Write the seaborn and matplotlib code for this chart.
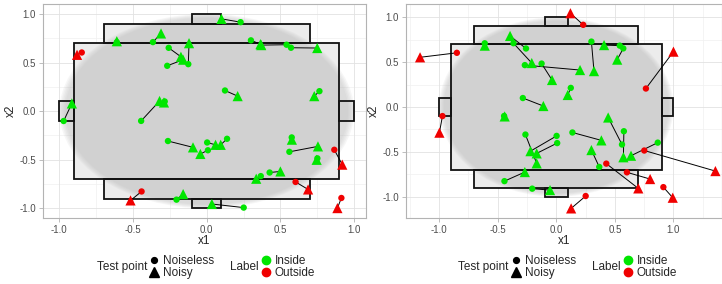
import matplotlib
matplotlib.use("Agg")
import matplotlib.pyplot as plt
from matplotlib.lines import Line2D
from matplotlib.patches import Rectangle, Ellipse
import numpy as np
import pandas as pd
import seaborn as sns

# noiseless test points (shared by both panels)
clean_x1 = [0.23, -0.61, -0.365, -0.258, -0.125, -0.268, 0.30, 0.542, 0.572, -0.848,
            0.124, 0.765, -0.971, -0.445, -0.285, -0.263, 0.003, 0.008, 0.138, 0.577,
            0.561, 0.751, 0.866, 0.427, 0.367, 0.603, -0.442, -0.205, 0.251, 0.914]
clean_x2 = [0.916, 0.71, 0.711, 0.652, 0.484, 0.467, 0.729, 0.684, 0.653, 0.604,
            0.213, 0.206, -0.101, -0.10, 0.10, -0.307, -0.322, -0.402, -0.284, -0.27,
            -0.418, -0.485, -0.397, -0.631, -0.668, -0.728, -0.826, -0.91, -0.992, -0.893]

# noisy versions, low noise (left panel)
noisy_left_x1 = [0.10, -0.61, -0.31, -0.175, -0.12, -0.16, 0.365, 0.37, 0.75, -0.88,
                 0.21, 0.73, -0.915, -0.32, -0.29, -0.093, 0.06, -0.043, 0.095, 0.578,
                 0.755, 0.746, 0.92, 0.50, 0.336, 0.688, -0.517, -0.16, 0.035, 0.887]
noisy_left_x2 = [0.95, 0.72, 0.80, 0.56, 0.70, 0.53, 0.69, 0.68, 0.65, 0.58,
                 0.155, 0.155, 0.08, 0.105, 0.09, -0.372, -0.346, -0.44, -0.346, -0.293,
                 -0.362, -0.50, -0.55, -0.62, -0.695, -0.805, -0.918, -0.853, -0.955, -0.997]
label_left = ["Inside"] * 30
for i in [9, 22, 25, 26, 29]:
    label_left[i] = "Outside"

# noisy versions, high noise (right panel)
noisy_right_x1 = [0.121, -0.61, -0.209, -0.394, -0.036, 0.203, 0.322, 0.408, 0.52, -1.162,
                  0.098, 1.0, -0.997, -0.44, -0.11, -0.167, -0.22, -0.167, 0.385, 0.573,
                  0.443, 1.358, 0.638, 0.70, 0.30, 0.801, -0.268, -0.053, 0.127, 0.994]
noisy_right_x2 = [1.045, 0.684, 0.49, 0.792, 0.301, 0.412, 0.40, 0.69, 0.528, 0.554,
                  0.134, 0.617, -0.286, -0.105, 0.011, -0.628, -0.492, -0.517, -0.372, -0.56,
                  -0.117, -0.714, -0.543, -0.907, -0.48, -0.803, -0.725, -0.926, -1.13, -1.011]
label_right = ["Inside"] * 30
for i in [0, 9, 11, 12, 21, 23, 25, 28, 29]:
    label_right[i] = "Outside"

# region rectangles: xmin, xmax, ymin, ymax
rects = [(-0.9, 0.9, -0.7, 0.7), (-0.7, 0.7, 0.7, 0.9), (-0.7, 0.7, -0.9, -0.7),
         (-0.1, 0.1, 0.9, 1.0), (-0.1, 0.1, -1.0, -0.9),
         (-1.0, -0.9, -0.1, 0.1), (0.9, 1.0, -0.1, 0.1)]

palette = {"Inside": "#00e600", "Outside": "#f00000"}
ticks = [-1.0, -0.5, 0.0, 0.5, 1.0]

sns.set_theme(style="white")
plt.rcParams["font.family"] = ["Liberation Sans", "DejaVu Sans"]

W, H = 722, 284
fig = plt.figure(figsize=(W / 100, H / 100), dpi=100)


def panel(box, nx, ny, labels, xlim, ylim):
    l, t, r, b = box
    ax = fig.add_axes([l / W, 1 - b / H, (r - l) / W, (b - t) / H])
    ax.set_xlim(*xlim)
    ax.set_ylim(*ylim)

    # grid like ggplot theme_light
    major = np.arange(-1.5, 1.51, 0.5)
    minor = np.arange(-1.25, 1.5, 0.5)
    for v in minor:
        ax.axvline(v, color="#f0f0f0", lw=0.5, zorder=0)
        ax.axhline(v, color="#f0f0f0", lw=0.5, zorder=0)
    for v in major:
        ax.axvline(v, color="#e2e2e2", lw=0.6, zorder=0)
        ax.axhline(v, color="#e2e2e2", lw=0.6, zorder=0)

    for x0, x1, y0, y1 in rects:
        ax.add_patch(Rectangle((x0, y0), x1 - x0, y1 - y0, facecolor="#ececec",
                               edgecolor="none", zorder=1))
    # soft-edged unit circle
    for rad in np.linspace(1.0, 0.96, 5):
        ax.add_patch(Ellipse((0, 0), 2 * rad, 2 * rad, facecolor="#b8b8b8",
                             edgecolor="none", alpha=0.12, zorder=2))
    for x0, x1, y0, y1 in rects:
        ax.add_patch(Rectangle((x0, y0), x1 - x0, y1 - y0, facecolor="none",
                               edgecolor="#111111", lw=1.3, zorder=3))

    for a, b_, c, d in zip(clean_x1, clean_x2, nx, ny):
        ax.plot([a, c], [b_, d], color="black", lw=0.7, zorder=4)

    df = pd.DataFrame({
        "x1": clean_x1 + nx,
        "x2": clean_x2 + ny,
        "Label": labels + labels,
        "Test point": ["Noiseless"] * len(clean_x1) + ["Noisy"] * len(nx),
    })
    sns.scatterplot(data=df[df["Test point"] == "Noiseless"], x="x1", y="x2",
                    hue="Label", palette=palette, marker="o", s=21, linewidth=0,
                    legend=False, ax=ax, zorder=5)
    sns.scatterplot(data=df[df["Test point"] == "Noisy"], x="x1", y="x2",
                    hue="Label", palette=palette, marker="^", s=54, linewidth=0,
                    legend=False, ax=ax, zorder=6)

    ax.set_xticks(ticks)
    ax.set_yticks(ticks)
    ax.set_xticklabels(["-1.0", "-0.5", "0.0", "0.5", "1.0"])
    ax.set_yticklabels(["-1.0", "-0.5", "0.0", "0.5", "1.0"])
    ax.tick_params(axis="both", length=3, width=0.6, color="#b3b3b3",
                   labelsize=7, labelcolor="#4d4d4d", pad=2, bottom=True, left=True)
    for s in ax.spines.values():
        s.set_color("#b3b3b3")
        s.set_linewidth(0.8)
    ax.set_xlabel("x1", fontsize=8.5, labelpad=0)
    ax.set_ylabel("x2", fontsize=8.5, labelpad=2)
    return ax


panel((43, 4, 366, 218), noisy_left_x1, noisy_left_x2, label_left,
      (-1.111, 1.081), (-1.099, 1.103))
panel((406, 4, 721.5, 218), noisy_right_x1, noisy_right_x2, label_right,
      (-1.282, 1.41), (-1.237, 1.148))


def legends(x_title1, x_key1, x_title2, x_key2):
    yc = 1 - 267 / H
    fig.text(x_title1 / W, yc, "Test point", fontsize=8.5, ha="left", va="center")
    fig.text(x_title2 / W, yc, "Label", fontsize=8.5, ha="left", va="center")
    shape_h = [Line2D([], [], ls="none", marker="o", color="black", markersize=4.2),
               Line2D([], [], ls="none", marker="^", color="black", markersize=7)]
    col_h = [Line2D([], [], ls="none", marker="o", color=palette["Inside"], markersize=6),
             Line2D([], [], ls="none", marker="o", color=palette["Outside"], markersize=6)]
    for handles, labs, xk in [(shape_h, ["Noiseless", "Noisy"], x_key1),
                              (col_h, ["Inside", "Outside"], x_key2)]:
        fig.legend(handles, labs, loc="center left",
                   bbox_to_anchor=((xk - 6) / W, yc), frameon=False, fontsize=8.5,
                   handlelength=0.9, handletextpad=0.25, labelspacing=0.05,
                   borderpad=0, borderaxespad=0)


legends(97, 155, 230, 267)
legends(458, 517, 592, 629)

fig.savefig("out.png", dpi=100)
